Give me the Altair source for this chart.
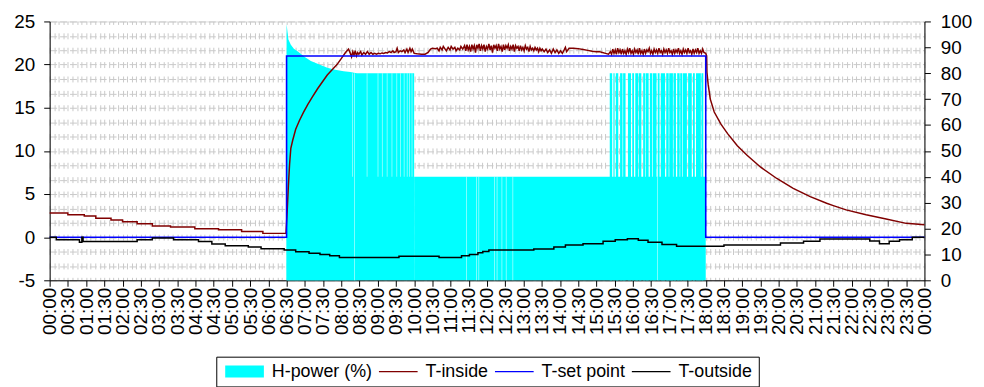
import altair as alt
import pandas as pd

FONT = "Liberation Sans"

series_names = ["H-power (%)", "T-inside", "T-set point", "T-outside"]
series_colors = ["#00FFFF", "#800000", "#0000FF", "#000000"]
legend_shapes = ["M-1,-1H5.5V1H-1Z", "M-1,-0.11H5.5V0.11H-1Z",
                 "M-1,-0.11H5.5V0.11H-1Z", "M-1,-0.11H5.5V0.11H-1Z"]

# ---- H-power (%) : minutes of day, right axis ----
power_blocks = [(390, 600, 80), (600, 1080, 40)]
power_decay = [(390, 99), (391.5, 96), (393, 93), (397, 91), (402, 89.5), (408, 88.5),
               (420, 86.3), (430, 84.7), (445, 83.3), (457, 82.1), (470, 81.3),
               (484, 80.8), (495, 80.5), (505, 80)]
power_spikes_80 = [(922, 926), (928, 930), (932, 936), (939, 943), (944, 948), (952, 957),
                   (959, 962), (964, 969), (970, 974), (977, 980), (981, 986), (988, 992),
                   (993, 999), (1001, 1004), (1006, 1013), (1015, 1019), (1020, 1026),
                   (1027, 1031), (1033, 1037), (1038, 1041), (1042, 1049), (1051, 1057),
                   (1059, 1062), (1064, 1072), (1073, 1076)]
dips_80_to_40 = [(498, 499), (522, 523), (540, 541), (547, 548), (555, 556), (563, 564),
                 (571, 572), (577, 578), (583, 584), (588, 589), (592, 593), (596, 597)]
dips_80_to_0 = [(501, 502)]
dips_40_to_0 = [(686, 687), (702, 703), (706, 707), (732, 733), (736, 737), (744, 745),
                (751, 752), (762, 763), (1000, 1001)]

# ---- temperatures (left axis) ----
t_inside = [
    (0, 2.8), (30, 2.8), (30, 2.6), (57, 2.6), (57, 2.45), (76, 2.45), (76, 2.2), (101, 2.2),
    (101, 2.0), (120, 2.0), (120, 1.8), (144, 1.8), (144, 1.55), (169, 1.55), (169, 1.3),
    (199, 1.3), (199, 1.17), (239, 1.17), (239, 0.98), (278, 0.98), (278, 0.86), (316, 0.86),
    (316, 0.67), (351, 0.67), (351, 0.44), (389, 0.44),
    (391, 3.0), (393, 6.0), (395, 8.5), (397, 10.3), (400, 11.2), (405, 12.5), (411, 13.5),
    (418, 14.5), (425, 15.4), (432, 16.2), (441, 17.2), (450, 18.1), (457, 18.8), (465, 19.4),
    (473, 20.0), (480, 20.7), (487, 21.4), (492, 21.8),
    (495, 21.3), (497, 20.9), (499, 21.5), (501, 21.1), (503, 21.6), (505, 21.0), (507, 21.4),
    (509, 21.2), (512, 21.5), (514, 21.1), (517, 21.4), (520, 21.2), (523, 21.5), (526, 21.2),
    (529, 21.4), (532, 21.2), (535, 21.3), (538, 21.2), (541, 21.3), (544, 21.25), (547, 21.35),
    (550, 21.3), (553, 21.4), (556, 21.35), (559, 21.5), (562, 21.4), (565, 21.6), (567, 21.4),
    (570, 21.5), (572, 21.9), (574, 21.4), (577, 21.6), (580, 21.5), (583, 21.7), (585, 21.4),
    (588, 21.8), (590, 21.4), (593, 21.9), (595, 21.5), (597, 21.8), (600, 21.3),
    (605, 21.25), (612, 21.2), (618, 21.2), (623, 21.4), (627, 21.8), (630, 21.9), (635, 21.85),
    (638, 21.9),
    (641, 21.6), (643, 22.0), (646, 21.7), (648, 22.1), (651, 21.8), (653, 21.6), (656, 22.0),
    (659, 21.7), (661, 22.1), (664, 21.8), (667, 22.0), (669, 21.6), (672, 21.9), (675, 21.7),
    (677, 22.1), (680, 21.8),
    (683, 22.2), (685, 21.6), (687, 22.3), (689, 21.7), (691, 22.1), (693, 21.5), (695, 22.3),
    (697, 21.8), (699, 22.2), (701, 21.4), (703, 22.3), (705, 21.9), (707, 22.4), (709, 21.6),
    (711, 22.2), (713, 21.8), (715, 22.3), (717, 21.5), (719, 22.1), (721, 21.8), (723, 22.4),
    (725, 21.7), (727, 22.2), (729, 21.4), (731, 22.3), (733, 21.9), (735, 22.2), (737, 21.6),
    (739, 22.4), (741, 21.8), (743, 22.1), (745, 21.5), (747, 22.3), (749, 21.7), (751, 22.2),
    (753, 21.9), (755, 22.3), (757, 21.6), (759, 22.1), (761, 21.8), (763, 22.3), (765, 21.5),
    (767, 22.2), (769, 21.9), (771, 22.1), (773, 21.6), (775, 22.2), (777, 21.7), (779, 22.0),
    (781, 21.6), (783, 22.2), (785, 21.8), (787, 22.0), (789, 21.5), (791, 22.1), (793, 21.7),
    (795, 21.9), (797, 21.6), (799, 22.0), (801, 21.7), (803, 21.9), (805, 21.5), (807, 21.9),
    (809, 21.6), (811, 21.8),
    (814, 21.5), (817, 21.8), (820, 21.4), (823, 21.7), (826, 21.3), (829, 21.8), (832, 21.4),
    (835, 21.7), (838, 21.3), (841, 21.6), (844, 21.3), (847, 21.7), (849, 22.0), (851, 21.5),
    (855, 21.9), (862, 21.9), (870, 21.85), (878, 21.75), (886, 21.65), (893, 21.55),
    (900, 21.5), (905, 21.5), (910, 21.4), (915, 21.3), (920, 21.2),
    (923, 21.5), (925, 21.2), (927, 21.8), (929, 21.3), (931, 21.7), (933, 21.2), (935, 21.9),
    (937, 21.4), (939, 21.7), (941, 21.2), (943, 21.8), (945, 21.3), (947, 21.6), (949, 21.2),
    (951, 21.8), (953, 21.4), (955, 21.9), (957, 21.3), (959, 21.6), (961, 21.2), (963, 21.8),
    (965, 21.4), (967, 21.7), (969, 21.2), (971, 21.9), (973, 21.3), (975, 21.6), (977, 21.2),
    (979, 21.8), (981, 21.3), (983, 21.7), (985, 21.5), (987, 21.9), (989, 21.3), (991, 21.6),
    (993, 21.2), (995, 21.8), (997, 21.4), (999, 21.7), (1001, 21.3), (1003, 21.9),
    (1005, 21.4), (1007, 21.6), (1009, 21.2), (1011, 21.8), (1013, 21.4), (1015, 21.7),
    (1017, 21.3), (1019, 21.9), (1021, 21.4), (1023, 21.6), (1025, 21.2), (1027, 21.8),
    (1029, 21.3), (1031, 21.7), (1033, 21.4), (1035, 21.9), (1037, 21.3), (1039, 21.6),
    (1041, 21.2), (1043, 21.8), (1045, 21.4), (1047, 21.7), (1049, 21.3), (1051, 21.9),
    (1053, 21.4), (1055, 21.6), (1057, 21.2), (1059, 21.8), (1061, 21.3), (1063, 21.7),
    (1065, 21.4), (1067, 21.9), (1069, 21.3), (1071, 21.6), (1073, 21.3), (1075, 21.8),
    (1077, 21.4), (1080, 21.3),
    (1081.5, 21.0), (1082, 19.1), (1084, 17.7), (1087.5, 16.0), (1094, 14.5), (1105, 13.1),
    (1116, 12.0), (1132, 10.6), (1148, 9.5), (1170, 8.14), (1197, 6.8), (1224, 5.65),
    (1252, 4.7), (1279, 3.93), (1290, 3.66), (1311, 3.16), (1344, 2.6), (1377, 2.1),
    (1410, 1.6), (1440, 1.44),
]

t_setpoint = [(0, 0), (390, 21), (1080, 0), (1440, 0)]  # step-after

t_outside = [(0, 0), (11, -0.3), (49, -0.6), (53, 0.0), (55, -0.5), (144, -0.3), (169, -0.1),
             (204, -0.3), (245, -0.5), (267, -0.8), (289, -1.0), (327, -1.15), (348, -1.35),
             (386, -1.5), (405, -1.7), (427, -1.86), (445, -2.0), (461, -2.16), (477, -2.36),
             (575, -2.2), (641, -2.36), (678, -2.16), (691, -2.0), (705, -1.8), (713, -1.66),
             (723, -1.5), (797, -1.36), (830, -1.13), (849, -0.9), (878, -0.75), (911, -0.48),
             (931, -0.3), (951, -0.17), (969, -0.37), (985, -0.6), (1008, -0.85), (1032, -1.06),
             (1110, -0.9), (1203, -0.67), (1241, -0.48), (1268, -0.2), (1350, -0.44),
             (1366, -0.75), (1382, -0.48), (1399, -0.29), (1420, 0.0), (1440, 0.0)]  # step-after

# axis positions (ticks every 30 min, grid texture every 7.5 min; temp ticks every 5)
x_axis_values = [i * 7.5 for i in range(193)]
temp_axis_values = [-5 + i * 5 / 3 for i in range(19)]
power_axis_values = list(range(0, 101, 10))

# ---- tables ----
df_blocks = pd.DataFrame(
    [(a, b, lv) for a, b, lv in power_blocks] + [(a, b, 80) for a, b in power_spikes_80],
    columns=["t", "t2", "v"])
df_decay = pd.DataFrame(power_decay, columns=["t", "v"])
df_dips = pd.DataFrame(
    [(a, b, 80, 40) for a, b in dips_80_to_40] + [(a, b, 80, 0) for a, b in dips_80_to_0]
    + [(a, b, 40, 0) for a, b in dips_40_to_0],
    columns=["t", "t2", "v", "lo"])
df_legend = pd.DataFrame({"s": series_names})

def line_df(rows):
    d = pd.DataFrame(rows, columns=["t", "v"])
    d["i"] = range(len(d))
    return d

df_in = line_df(t_inside)
df_sp = line_df(t_setpoint)
df_out = line_df(t_outside)

# ---- encodings ----
xscale = alt.Scale(domain=[0, 1440], nice=False, zero=False)
hh = "floor(datum.value/60)%24"
mm = "datum.value%60"
x_label_expr = (f"datum.value % 30 != 0 ? '' : ({hh} < 10 ? '0' : '') + ({hh}) + ':' + "
                f"({mm} < 10 ? '0' : '') + ({mm})")
xaxis = alt.Axis(values=x_axis_values, labelExpr=x_label_expr, labelAngle=270,
                 labelAlign="right", labelBaseline="middle", labelPadding=1,
                 labelFont=FONT, labelFontSize=19, labelColor="black",
                 labelOverlap=False, labelFlush=False, labelBound=False,
                 tickSize=6, tickColor="black",
                 tickOpacity={"condition": {"test": "datum.value % 30 == 0", "value": 1}, "value": 0},
                 domainColor="black", grid=True, gridColor="#c9c9c9", gridWidth=1,
                 gridDash=[6, 8.5], gridDashOffset=3, title=None)
xenc = alt.X("t:Q", scale=xscale, axis=xaxis)

temp_scale = alt.Scale(domain=[-5, 25], nice=False, zero=False)
is5 = "abs(datum.value/5 - round(datum.value/5)) < 0.001"
temp_axis = alt.Axis(orient="left", values=temp_axis_values,
                     labelExpr=f"{is5} ? '' + round(datum.value) : ''",
                     labelFont=FONT, labelFontSize=19, labelColor="black", labelPadding=9,
                     labelOverlap=False, labelFlush=False, labelBound=False,
                     tickSize=6, tickColor="black",
                     tickOpacity={"condition": {"test": is5, "value": 1}, "value": 0},
                     domainColor="black", grid=True, gridColor="#c9c9c9", gridWidth=1,
                     gridDash=[7, 3], title=None)
tenc = alt.Y("v:Q", scale=temp_scale, axis=temp_axis)

power_scale = alt.Scale(domain=[0, 100], nice=False, zero=False)
power_axis = alt.Axis(orient="right", values=power_axis_values, format="d",
                      labelFont=FONT, labelFontSize=19, labelColor="black", labelPadding=10,
                      labelOverlap=False, labelFlush=False, tickSize=6, tickColor="black",
                      domainColor="black", grid=False, title=None)
penc = alt.Y("v:Q", scale=power_scale, axis=power_axis)

legend = alt.Legend(title=None, orient="none", legendX=168, legendY=338,
                    direction="horizontal", columns=4, symbolSize=144,
                    symbolStrokeWidth=0, symbolOpacity=1,
                    labelFont=FONT, labelFontSize=18, labelColor="black",
                    labelOffset=32, columnPadding=3, padding=6, strokeColor="black",
                    fillColor="white", labelLimit=0)

# ---- layers ----
rects = alt.Chart(df_blocks).mark_rect(color=series_colors[0]).encode(
    x=xenc, x2="t2:Q", y=penc, y2=alt.datum(0))
decay = alt.Chart(df_decay).mark_area(color=series_colors[0], opacity=1).encode(
    x=xenc, y=penc, y2=alt.datum(0))
dips = alt.Chart(df_dips).mark_rect(color="white", opacity=0.8).encode(
    x=xenc, x2="t2:Q", y=penc, y2="lo:Q")
power_group = alt.layer(rects, decay, dips)

inside = alt.Chart(df_in).mark_line(color=series_colors[1], strokeWidth=1.5).encode(
    x=xenc, y=tenc, order="i:Q")
setp = alt.Chart(df_sp).mark_line(color=series_colors[2], strokeWidth=1.6,
                                  interpolate="step-after").encode(
    x=xenc, y=tenc, order="i:Q")
outside = alt.Chart(df_out).mark_line(color=series_colors[3], strokeWidth=1.5,
                                      interpolate="step-after").encode(
    x=xenc, y=tenc, order="i:Q")
legend_keys = alt.Chart(df_legend).mark_point(filled=True, opacity=0).encode(
    color=alt.Color("s:N", scale=alt.Scale(domain=series_names, range=series_colors),
                    legend=legend),
    shape=alt.Shape("s:N", scale=alt.Scale(domain=series_names, range=legend_shapes),
                    legend=legend))
temp_group = alt.layer(inside, setp, outside, legend_keys)

chart = alt.layer(power_group, temp_group).resolve_scale(y="independent").properties(
    width=882, height=261,
    autosize=alt.AutoSizeParams(type="none"),
    padding={"left": 42, "top": 12, "right": 52, "bottom": 106},
).configure_view(stroke="#888888", strokeWidth=1).configure(background="white")

chart.save("out.html", embed_options={"renderer": "svg", "actions": False})
